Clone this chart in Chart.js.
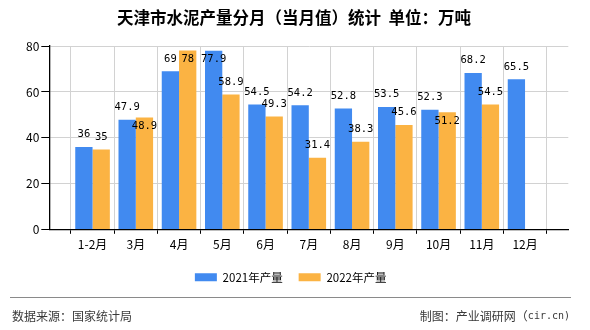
<!DOCTYPE html>
<html>
<head>
<meta charset="utf-8">
<script src="https://cdn.jsdelivr.net/npm/chart.js@4/dist/chart.umd.min.js"></script>
<style>
  html, body { margin: 0; padding: 0; background: #ffffff; }
  #wrap { width: 590px; height: 330px; position: relative; }
</style>
</head>
<body>
<div id="wrap"><canvas id="c" width="590" height="330"></canvas></div>
<script>
// ---- data ----
const categories = ['1-2月', '3月', '4月', '5月', '6月', '7月', '8月', '9月', '10月', '11月', '12月'];
const output2021 = [36, 47.9, 69, 77.9, 54.5, 54.2, 52.8, 53.5, 52.3, 68.2, 65.5];
const output2022 = [35, 48.9, 78, 58.9, 49.3, 31.4, 38.3, 45.6, 51.2, 54.5, null];
const seriesNames = ['2021年产量', '2022年产量'];
const yTicks = [0, 20, 40, 60, 80];
const titleText = '天津市水泥产量分月（当月值）统计  单位：万吨';
const sourceText = '数据来源：国家统计局';
const creditCJK = '制图：产业调研网（';
const creditLatin = 'cir.cn)';

// ---- styles ----
const BLUE = '#418af0';
const ORANGE = '#fbb343';
const CJK = '"Noto Sans CJK SC", "Noto Sans", sans-serif';
const MONO = '"DejaVu Sans Mono", monospace';

// axis has an empty slot before the first and after the last month
const axisLabels = [''].concat(categories, ['']);
const pad = arr => [null].concat(arr, [null]);

Chart.defaults.font.family = CJK;
Chart.defaults.font.size = 12;
Chart.defaults.color = '#000';

const frame = {
  id: 'frame',
  afterLayout(chart) {
    // centre the legend row under the whole page like the original
    if (chart.legend) { chart.legend.left += 6.5; chart.legend.right += 6.5; }
  },
  beforeDraw(chart) {
    const ctx = chart.ctx;
    ctx.save();
    ctx.fillStyle = '#fff';
    ctx.fillRect(0, 0, chart.width, chart.height);
    ctx.restore();
  },
  afterDraw(chart) {
    const ctx = chart.ctx;
    ctx.save();
    // title
    ctx.fillStyle = '#000';
    ctx.font = 'bold 16.5px ' + CJK;
    ctx.textAlign = 'center';
    ctx.textBaseline = 'middle';
    ctx.fillText(titleText, 294, 17.5);
    // footer rule
    ctx.strokeStyle = '#8a8a8a';
    ctx.lineWidth = 1.2;
    ctx.beginPath();
    ctx.moveTo(10, 297.5);
    ctx.lineTo(571, 297.5);
    ctx.stroke();
    // footer texts
    ctx.fillStyle = '#3a3a3a';
    ctx.font = '12px ' + CJK;
    ctx.textAlign = 'left';
    ctx.fillText(sourceText, 12, 316);
    ctx.textAlign = 'right';
    ctx.font = '10px ' + MONO;
    ctx.fillText(creditLatin, 570, 316);
    const lw = ctx.measureText(creditLatin).width;
    ctx.font = '12px ' + CJK;
    ctx.fillText(creditCJK, 570 - lw, 316);
    ctx.restore();
  }
};

const valueLabels = {
  id: 'valueLabels',
  afterDatasetsDraw(chart) {
    const ctx = chart.ctx;
    const top = chart.chartArea.top;
    ctx.save();
    ctx.font = '10.5px ' + MONO;
    ctx.fillStyle = '#000';
    ctx.textAlign = 'center';
    ctx.textBaseline = 'middle';
    const placed = [];
    chart.data.datasets.forEach((ds, di) => {
      const meta = chart.getDatasetMeta(di);
      meta.data.forEach((bar, i) => {
        const v = ds.data[i];
        if (v === null || v === undefined) return;
        const txt = String(v);
        const w = ctx.measureText(txt).width;
        let y = Math.max(bar.y - 12.5, top + 13);
        // avoid colliding with the neighbour label in the same month
        const other = placed.find(p => p.i === i);
        if (other && Math.abs(other.y - y) < 11 &&
            Math.abs(other.x - bar.x) < (other.w + w) / 2) {
          y = bar.y + 9;
        }
        placed.push({ i, x: bar.x, y, w });
        ctx.fillText(txt, bar.x, y);
      });
    });
    ctx.restore();
  }
};

new Chart(document.getElementById('c'), {
  type: 'bar',
  data: {
    labels: axisLabels,
    datasets: [
      { label: seriesNames[0], data: pad(output2021), backgroundColor: BLUE,
        categoryPercentage: 0.8, barPercentage: 1.0 },
      { label: seriesNames[1], data: pad(output2022), backgroundColor: ORANGE,
        categoryPercentage: 0.8, barPercentage: 1.0 }
    ]
  },
  options: {
    responsive: false,
    animation: false,
    devicePixelRatio: 1,
    layout: { padding: { top: 46, left: 0, right: 21.7, bottom: 37 } },
    plugins: {
      title: { display: false },
      tooltip: { enabled: false },
      legend: {
        position: 'bottom',
        labels: {
          boxWidth: 22,
          boxHeight: 8,
          padding: 16,
          color: '#000',
          font: { size: 11.5, family: CJK }
        }
      }
    },
    scales: {
      x: {
        offset: false,
        grid: { color: '#d2d2d2', tickColor: '#000', tickLength: 4, lineWidth: 1 },
        border: { color: '#000', width: 1.3, z: 1 },
        ticks: { padding: 3, color: '#000', autoSkip: false, maxRotation: 0,
                 font: { size: 12, family: CJK } },
        afterFit(scale) { scale.height = 25.7; }
      },
      y: {
        min: yTicks[0],
        max: yTicks[yTicks.length - 1],
        afterBuildTicks(scale) { scale.ticks = yTicks.map(v => ({ value: v })); },
        grid: { color: '#d2d2d2', tickColor: '#000', tickLength: 8, lineWidth: 1 },
        border: { color: '#000', width: 1.3, z: 1 },
        ticks: { padding: 2, color: '#000', font: { size: 12, family: CJK } },
        afterFit(scale) { scale.width = 49.3; }
      }
    }
  },
  plugins: [frame, valueLabels]
});
</script>
</body>
</html>
